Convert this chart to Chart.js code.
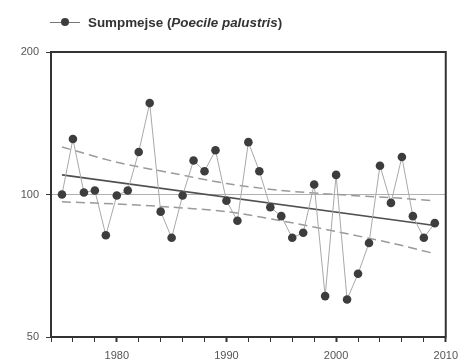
<!DOCTYPE html>
<html>
<head>
<meta charset="utf-8">
<script src="https://cdn.jsdelivr.net/npm/chart.js@4.4.0/dist/chart.umd.min.js"></script>
<style>
body { margin: 0; background: #fff; }
#wrap { position: relative; width: 465px; height: 360px; }
#legend { position: absolute; left: 50px; top: 14px; height: 17px; display: flex; align-items: center;
  font: bold 13.4px "Liberation Sans", Arial, sans-serif; color: #333; white-space: nowrap; }
#legend .key { position: relative; width: 30px; height: 17px; margin-right: 8px; }
#legend .key .ln { position: absolute; left: 0; right: 0; top: 8px; height: 1px; background: #777; }
#legend .key .dot { position: absolute; left: 11px; top: 4px; width: 8px; height: 8px; border-radius: 50%; background: #3d3d3d; }
</style>
</head>
<body>
<div id="wrap">
  <canvas id="chart" width="465" height="360"></canvas>
  <div id="legend"><span class="key"><span class="ln"></span><span class="dot"></span></span>Sumpmejse (<i>Poecile palustris</i>)</div>
</div>
<script>
// Data
const years = [1975, 1976, 1977, 1978, 1979, 1980, 1981, 1982, 1983, 1984, 1985, 1986,
  1987, 1988, 1989, 1990, 1991, 1992, 1993, 1994, 1995, 1996, 1997, 1998, 1999, 2000,
  2001, 2002, 2003, 2004, 2005, 2006, 2007, 2008, 2009];
const counts = [100, 131, 101, 102, 82, 99.5, 102, 123, 156, 92, 81, 99.5,
  118, 112, 124, 97, 88, 129, 112, 94, 90, 81, 83, 105, 61, 110,
  60, 68, 79, 115, 96, 120, 90, 81, 87];

const trendYears = [1975, 2009];
const trendValues = [110, 86];

const bandYears = [1975, 1980, 1985, 1990, 1995, 2000, 2005, 2009];
const upperBand = [126, 117, 111, 105.5, 102, 100, 98.5, 97];
const lowerBand = [96.5, 95.5, 94, 92, 88, 83.5, 79, 75];

const yTicks = [50, 100, 200];
const xLabels = [1980, 1990, 2000, 2010];

const pts = (xs, ys) => xs.map((x, i) => ({ x: x, y: ys[i] }));
const axisFont = { family: '"Liberation Sans", Arial, sans-serif', size: 11 };

// top + right frame lines
const boxPlugin = {
  id: 'box',
  afterDraw(chart) {
    const a = chart.chartArea, c = chart.ctx;
    c.save();
    c.strokeStyle = '#333';
    c.lineWidth = 2;
    c.beginPath();
    c.moveTo(a.left - 1, a.top);
    c.lineTo(a.right, a.top);
    c.lineTo(a.right, a.bottom + 1);
    c.stroke();
    c.restore();
  }
};

new Chart(document.getElementById('chart'), {
  type: 'line',
  data: {
    datasets: [
      { data: pts(years, counts), borderColor: '#a8a8a8', borderWidth: 1,
        pointRadius: 4.3, pointBackgroundColor: '#3d3d3d', pointBorderWidth: 0, tension: 0 },
      { data: pts(trendYears, trendValues), borderColor: '#505050', borderWidth: 1.6, pointRadius: 0 },
      { data: pts(bandYears, upperBand), borderColor: '#9a9a9a', borderWidth: 1.5,
        borderDash: [9, 5], pointRadius: 0, tension: 0.3 },
      { data: pts(bandYears, lowerBand), borderColor: '#9a9a9a', borderWidth: 1.5,
        borderDash: [9, 5], pointRadius: 0, tension: 0.3 }
    ]
  },
  options: {
    responsive: false,
    animation: false,
    layout: { padding: { top: 52, right: 18, left: 0, bottom: 0 } },
    plugins: { legend: { display: false }, tooltip: { enabled: false } },
    scales: {
      x: {
        type: 'linear', min: 1974, max: 2010,
        afterFit: s => { s.height = 23; },
        ticks: { stepSize: 2, autoSkip: false, maxRotation: 0, color: '#555', font: axisFont, padding: 7,
          callback: v => xLabels.includes(v) ? String(v) : '' },
        grid: { drawOnChartArea: false, tickLength: 5, tickColor: '#333',
          tickWidth: ctx => (ctx.tick && ctx.tick.value % 10 === 0) ? 2 : 1 },
        border: { color: '#333', width: 2 }
      },
      y: {
        type: 'logarithmic', min: 50, max: 200,
        afterFit: s => { s.width = 51; },
        afterBuildTicks: s => { s.ticks = yTicks.map(v => ({ value: v })); },
        ticks: { color: '#555', font: axisFont, padding: 7, callback: v => String(v) },
        grid: { color: ctx => (ctx.tick && ctx.tick.value === 100) ? '#b0b0b0' : 'rgba(0,0,0,0)',
          lineWidth: 1, tickColor: '#333', tickLength: 5 },
        border: { color: '#333', width: 2 }
      }
    }
  },
  plugins: [boxPlugin]
});
</script>
</body>
</html>
